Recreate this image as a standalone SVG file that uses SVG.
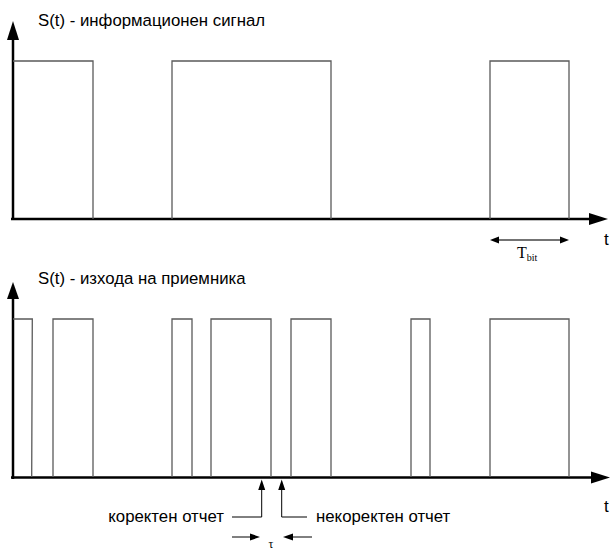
<svg xmlns="http://www.w3.org/2000/svg" width="613" height="551" viewBox="0 0 613 551">
  <style>
    .axis { stroke: #000; stroke-width: 2.5; fill: none; }
    .head { fill: #000; stroke: none; }
    .pulse { stroke: #5a5a5a; stroke-width: 1.3; fill: none; }
    .thin { stroke: #000; stroke-width: 1; fill: none; }
    .label { font-family: "Liberation Sans", Arial, sans-serif; font-size: 16.8px; fill: #000; }
    .serif { font-family: "Liberation Serif", "Times New Roman", serif; fill: #000; }
  </style>
  <rect width="613" height="551" fill="#fff"/>

  <!-- upper plot: information signal -->
  <g id="plot-info">
    <text class="label" x="38" y="26">S(t) - информационен сигнал</text>
    <path class="axis" d="M13,220 V38"/>
    <path class="head" d="M13,21 L19,40 L7,40 Z"/>
    <path class="axis" d="M11,219 H590"/>
    <path class="head" d="M608,219 L589,213 L589,225 Z"/>
    <text class="label" x="604" y="245" style="font-size:17px">t</text>
    <g id="pulses-info">
      <path class="pulse" d="M13,61 H93 V219"/>
      <path class="pulse" d="M172,219 V61 H331 V219"/>
      <path class="pulse" d="M490,219 V61 H569 V219"/>
    </g>
    <!-- bit period -->
    <g id="tbit">
      <path class="thin" d="M498,240 H561" style="stroke:#444;stroke-width:1.3"/>
      <path class="head" d="M490,240 L499,236.5 L499,243.5 Z"/>
      <path class="head" d="M569,240 L560,236.5 L560,243.5 Z"/>
      <text class="serif" x="517" y="258" style="font-size:16px">T<tspan dy="3" style="font-size:10px">bit</tspan></text>
    </g>
  </g>

  <!-- lower plot: receiver output -->
  <g id="plot-rx">
    <text class="label" x="38" y="284">S(t) - изхода на приемника</text>
    <path class="axis" d="M13,479 V296"/>
    <path class="head" d="M13,282 L19,299 L7,299 Z"/>
    <path class="axis" d="M11,477.5 H592"/>
    <path class="head" d="M610,477.5 L591,471.5 L591,483.5 Z"/>
    <text class="label" x="604" y="512" style="font-size:17px">t</text>
    <g id="pulses-rx">
      <path class="pulse" d="M13,319 H32.3 L31.7,477"/>
      <path class="pulse" d="M53,477 V319 H93 V477"/>
      <path class="pulse" d="M172,477 V319 H192 V477"/>
      <path class="pulse" d="M211,477 V319 H271 V477"/>
      <path class="pulse" d="M291,477 V319 H331 V477"/>
      <path class="pulse" d="M411,477 V319 H430 V477"/>
      <path class="pulse" d="M490,477 V319 H569 V477"/>
    </g>
  </g>

  <!-- sampling instants -->
  <g id="connectors">
    <path class="thin" d="M261.7,489 V517 H232"/>
    <path class="head" d="M261.7,479.5 L265.2,490 L258.2,490 Z"/>
    <path class="thin" d="M281.7,489 V517 H307"/>
    <path class="head" d="M281.7,479.5 L285.2,490 L278.2,490 Z"/>
    <path class="thin" d="M232,537 H252"/>
    <path class="head" d="M260,537 L250,533.5 L250,540.5 Z"/>
    <path class="thin" d="M312,537 H291"/>
    <path class="head" d="M283,537 L293,533.5 L293,540.5 Z"/>
  </g>
  <g id="labels">
    <text class="label" x="224" y="522" text-anchor="end">коректен отчет</text>
    <text class="label" x="316" y="522">некоректен отчет</text>
    <text class="serif" x="271" y="548" text-anchor="middle" style="font-size:12px">τ</text>
  </g>
</svg>
